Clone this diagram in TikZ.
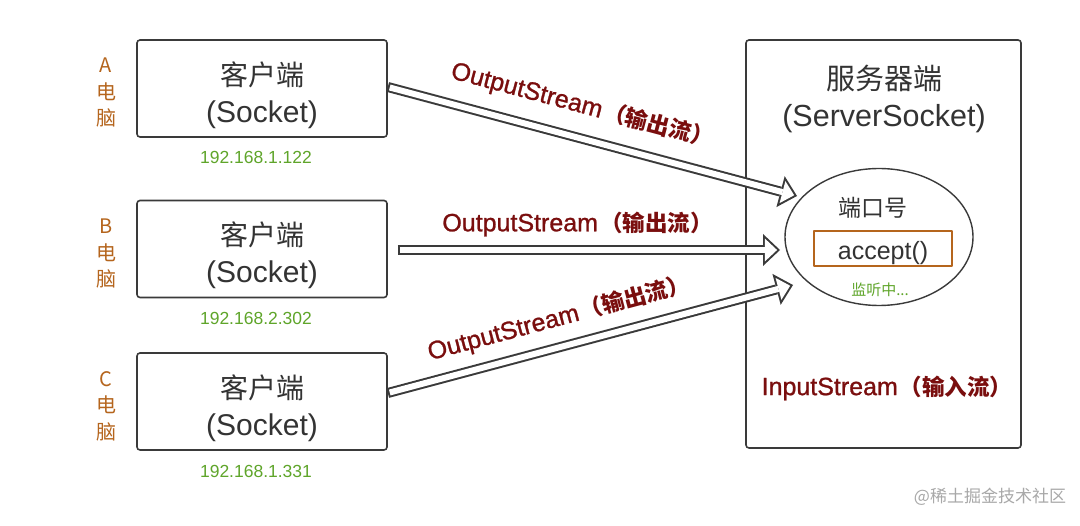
\documentclass[tikz,border=0pt]{standalone}
\usepackage{fontspec}
\setmainfont{Liberation Sans}
\newfontfamily\cjk{Noto Sans CJK SC}
\newfontfamily\streamfont{Liberation Sans}[FakeBold=1]
\usetikzlibrary{arrows.meta,shapes.geometric}
\definecolor{boxgray}{HTML}{3A3A3A}
\definecolor{textgray}{HTML}{333333}
\definecolor{streamred}{HTML}{7A0E0E}
\definecolor{pcbrown}{HTML}{B5651D}
\definecolor{ipgreen}{HTML}{5FA52A}
\definecolor{markgray}{HTML}{A8A8A8}
\newcommand{\fs}[1]{\fontsize{#1}{#1}\selectfont}
% label text: latin part + cjk part
\newcommand{\streamtext}[2]{{\streamfont\fs{25}#1}\hspace{2pt}{\cjk\bfseries\fs{22.5}#2}}
\tikzset{
  client/.style={draw=boxgray, line width=1.6pt, rounded corners=3pt, fill=white,
    minimum width=250pt, minimum height=97pt, align=center, text=textgray,
    font=\fontsize{30}{37}\selectfont},
  pclabel/.style={text=pcbrown, align=center, font=\fontsize{20}{26.5}\selectfont\cjk},
  iplabel/.style={text=ipgreen, font=\fs{17.5}},
  streamout/.style={draw=boxgray, line width=10pt, -{Triangle[length=17pt, width=32pt, line width=0pt]}},
  streamin/.style={draw=white, line width=6pt, shorten <=2pt, shorten >=2.93pt,
    -{Triangle[length=12.1pt, width=22.7pt, line width=0pt]}},
  streamlabel/.style={text=streamred},
}
\begin{document}
\begin{tikzpicture}[x=1pt,y=-1pt, line join=round]
  \useasboundingbox[fill=white] (0,0) rectangle (1080,526);
  % clients
  \node[client] (clientA) at (262,88.5) {\rule{0pt}{37pt}{\cjk\fs{28}客户端}\\(Socket)};
  \node[client] (clientB) at (262,249) {\rule{0pt}{37pt}{\cjk\fs{28}客户端}\\(Socket)};
  \node[client] (clientC) at (262,401.5) {\rule{0pt}{37pt}{\cjk\fs{28}客户端}\\(Socket)};
  \node[pclabel] (pcA) at (106,93) {A\\电\\脑};
  \node[pclabel] (pcB) at (106,254) {B\\电\\脑};
  \node[pclabel] (pcC) at (106,406) {C\\电\\脑};
  \node[iplabel] (ipA) at (256,157) {192.168.1.122};
  \node[iplabel] (ipB) at (256,318) {192.168.2.302};
  \node[iplabel] (ipC) at (256,471) {192.168.1.331};
  % server
  \node[draw=boxgray, line width=1.6pt, rounded corners=3pt, minimum width=275pt, minimum height=408pt] (server) at (883.5,244) {};
  \node[text=textgray, align=center, font=\fontsize{30.5}{37}\selectfont] (title) at (884,99) {{\cjk\fs{29}服务器端}\\(ServerSocket)};
  \node[ellipse, draw=boxgray, line width=1.4pt, minimum width=188pt, minimum height=137pt] (port) at (879,237) {};
  \node[text=textgray, font=\fs{23}\cjk] (portno) at (873,208) {端口号};
  \node[draw=pcbrown, line width=1.6pt, minimum width=138pt, minimum height=35pt, inner ysep=2pt,
    text height=22pt, text depth=0pt, text=textgray, font=\fs{25}] (accept) at (883,248.5) {accept()};
  \node[text=ipgreen, font=\fs{15}\cjk] (listen) at (880,290) {监听中...};
  \node[streamlabel] (input) at (887,388) {\streamtext{InputStream}{（输入流）}};
  % arrows
  \coordinate (startA) at ([yshift=1.5pt]clientA.east);
  \coordinate (startB) at ([xshift=10pt,yshift=-1pt]clientB.east);
  \coordinate (startC) at ([yshift=8.5pt]clientC.east);
  \coordinate (tipA) at (797,196);
  \coordinate (tipB) at (780,250);
  \coordinate (tipC) at (793,285);
  \foreach \s/\t in {startA/tipA, startB/tipB, startC/tipC} {
    \draw[streamout] (\s) -- (\t);
    \draw[streamin] (\s) -- (\t);
  }
  \path (startA) -- (tipA) node[pos=0.455, sloped, above=16pt, streamlabel] (outA) {\streamtext{OutputStream}{（输出流）}};
  \path (startB) -- (tipB) node[pos=0.47, above=10pt, streamlabel] (outB) {\streamtext{OutputStream}{（输出流）}};
  \path (startC) -- (tipC) node[pos=0.44, sloped, above=12pt, streamlabel] (outC) {\streamtext{OutputStream}{（输出流）}};
  \node[text=markgray, font=\fs{17}\cjk] (mark) at (990,497) {@稀土掘金技术社区};
\end{tikzpicture}
\end{document}
